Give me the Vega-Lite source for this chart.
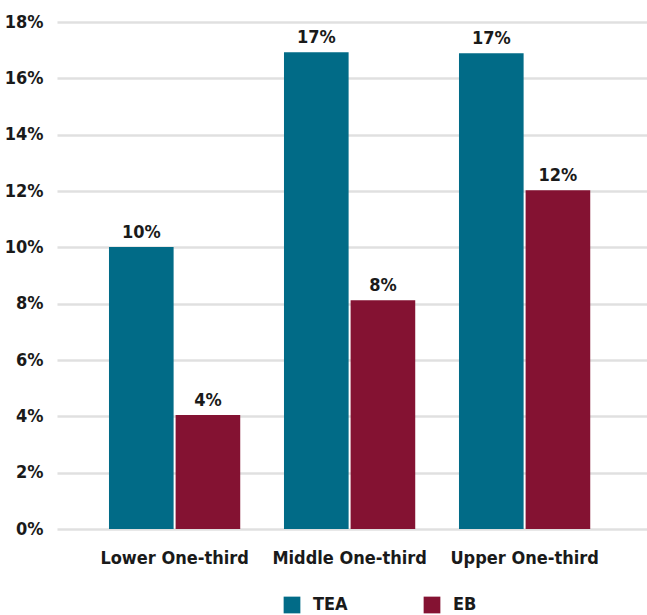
{
  "$schema": "https://vega.github.io/schema/vega-lite/v6.json",
  "autosize": "none",
  "width": 590,
  "height": 507,
  "padding": {"left": 57, "top": 22, "right": 0, "bottom": 86},
  "background": "white",
  "config": {
    "font": "DejaVu Sans Condensed",
    "view": {"stroke": null}
  },
  "data": {
    "values": [
      {"group": "Lower One-third", "series": "TEA", "value": 0.1001},
      {"group": "Lower One-third", "series": "EB", "value": 0.0405},
      {"group": "Middle One-third", "series": "TEA", "value": 0.1693},
      {"group": "Middle One-third", "series": "EB", "value": 0.0812},
      {"group": "Upper One-third", "series": "TEA", "value": 0.1689},
      {"group": "Upper One-third", "series": "EB", "value": 0.1203}
    ]
  },
  "encoding": {
    "x": {
      "field": "group", "type": "nominal", "sort": null,
      "scale": {"paddingInner": 0.25, "paddingOuter": 0.3107, "align": 0.478},
      "axis": {"title": null, "labelAngle": 0, "domain": false, "ticks": false,
               "labelFontSize": 18, "labelFontWeight": "bold", "labelColor": "#1a1a1a", "labelPadding": 20}
    },
    "xOffset": {"field": "series", "type": "nominal", "sort": ["TEA", "EB"], "scale": {"paddingInner": 0.03}},
    "y": {
      "field": "value", "type": "quantitative",
      "scale": {"domain": [0, 0.18], "nice": false},
      "axis": {"title": null, "format": ".0%", "values": [0,0.02,0.04,0.06,0.08,0.1,0.12,0.14,0.16,0.18],
               "domain": false, "ticks": false, "labelFontSize": 18, "labelFontWeight": "bold",
               "labelColor": "#1a1a1a", "labelPadding": 14, "gridColor": "#e0e0e0", "gridWidth": 2.5}
    }
  },
  "layer": [
    {
      "mark": {"type": "bar"},
      "encoding": {
        "color": {
          "field": "series", "type": "nominal", "sort": ["TEA", "EB"],
          "scale": {"domain": ["TEA", "EB"], "range": ["#016b87", "#841232"]},
          "legend": {"title": null, "orient": "none", "legendX": 226, "legendY": 574, "direction": "horizontal",
                     "symbolType": "square", "symbolSize": 280, "symbolStrokeWidth": 0,
                     "labelFontSize": 18, "labelFontWeight": "bold", "labelColor": "#1a1a1a",
                     "columnPadding": 75, "labelOffset": 12}
        }
      }
    },
    {
      "mark": {"type": "text", "baseline": "bottom", "dy": -5, "fontSize": 18, "fontWeight": "bold", "color": "#1a1a1a"},
      "encoding": {
        "text": {"field": "value", "type": "quantitative", "format": ".0%"}
      }
    }
  ]
}
